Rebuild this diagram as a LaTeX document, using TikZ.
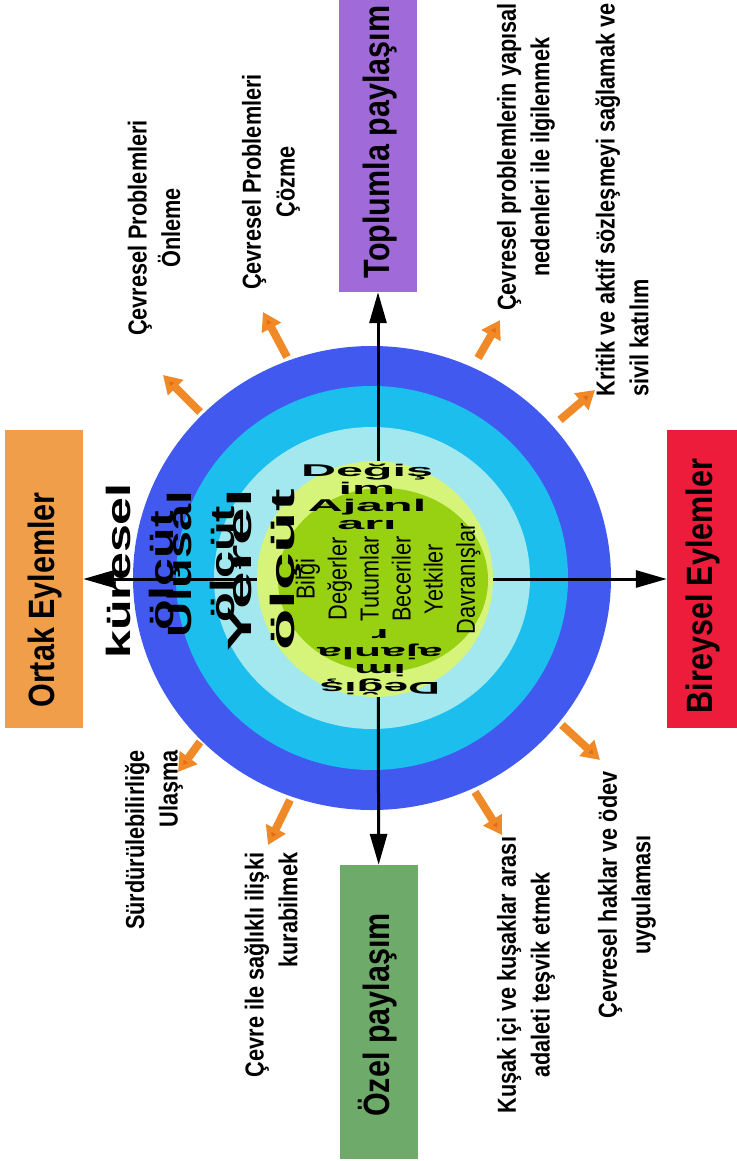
\documentclass[tikz,border=0pt]{standalone}
\usepackage{fontspec}
\setmainfont{Liberation Sans}
\usetikzlibrary{arrows.meta}
\tikzset{%
  box/.style={rectangle,inner sep=0pt,minimum width=78pt,fill=#1},
  boxtext/.style={font=\fontsize{30.5}{36}\selectfont\bfseries,rotate=90,yscale=1.2,inner sep=0pt},
  lbl/.style={font=\fontsize{21.7}{28}\selectfont\bfseries,rotate=90,yscale=1.2,inner sep=0pt,align=center},
  crit/.style={font=\fontsize{28}{36}\selectfont\bfseries,rotate=90,yscale=1.2,xscale=#1,inner sep=0pt,align=center},
  agent/.style={font=\fontsize{17}{17.5}\selectfont\bfseries,inner sep=0pt,align=center},
  items/.style={font=\fontsize{21.7}{26.7}\selectfont,rotate=90,yscale=1.2,inner sep=0pt,align=center},
  link/.style={line width=3pt,-{Triangle[length=31pt,width=17pt]}},
  spark/.style={line width=8pt,draw=c9,-{Triangle[length=18pt,width=21pt,fill=c10]}}
}
\definecolor{c0}{rgb}{0.26,0.35,0.94}
\definecolor{c1}{rgb}{0.11,0.745,0.933}
\definecolor{c2}{rgb}{0.635,0.91,0.933}
\definecolor{c3}{rgb}{0.84,0.957,0.478}
\definecolor{c4}{rgb}{0.596,0.816,0.07}
\definecolor{c5}{rgb}{0.627,0.416,0.847}
\definecolor{c6}{rgb}{0.925,0.11,0.227}
\definecolor{c7}{rgb}{0.431,0.667,0.416}
\definecolor{c8}{rgb}{0.941,0.62,0.29}
\definecolor{c9}{rgb}{0.941,0.541,0.157}
\definecolor{c10}{rgb}{0.91,0.424,0.078}

\begin{document}
\begin{tikzpicture}[x=1pt,y=-1pt]
  \useasboundingbox (0,0) rectangle (736,1161);
  \coordinate (o) at (372,578);
  \coordinate (mid) at (378,579);
  \node[box=c5,minimum height=302pt] (b0) at (378,141) {};
  \node[box=c6,minimum height=298pt] (b1) at (706,579) {};
  \node[box=c7,minimum height=294pt] (b2) at (379,1012) {};
  \node[box=c8,minimum height=298pt] (b3) at (44,579) {};
  \fill[c0] (o) ellipse [x radius=239,y radius=232];
  \fill[c1] (o) ellipse [x radius=196,y radius=192];
  \fill[c2] (o) ellipse [x radius=158,y radius=151];
  \draw[link] (mid) -- (b0);
  \draw[link] (mid) -- (b1);
  \draw[link] (mid) -- (b2);
  \draw[link] (mid) -- (b3);
  \fill[c3] (375,579) circle [radius=118];
  \fill[c4] (383,580) ellipse [x radius=105,y radius=92];
  %%%
  \node[boxtext] (t0) at (380,142) {Toplumla paylaşım};
  \node[boxtext] (t1) at (703,586) {Bireysel Eylemler};
  \node[boxtext] (t2) at (378,1015) {Özel paylaşım};
  \node[boxtext] (t3) at (45,600) {Ortak Eylemler};
  \node[crit=1.79] (v0) at (143,571) {küresel\\ölçüt};
  \node[crit=1.74] (v1) at (204,564) {Ulusal\\ölçüt};
  \node[crit=2.42] (v2) at (264,570) {Yerel\\ölçüt};
  \node[agent,xscale=2.85] (g0) at (367,497) {Değiş\\im\\Ajanl\\arı};
  \node[agent,rotate=180,xscale=2.6] (g1) at (380,662) {Değiş\\im\\ajanla\\r};
  \node[items] (k0) at (388,579) {Bilgi\\Değerler\\Tutumlar\\Beceriler\\Yetkiler\\Davranışlar};
  %%%
  \coordinate (a0) at (200,412); \coordinate (e0) at (163,375);
  \coordinate (a1) at (287,357); \coordinate (e1) at (263,312);
  \coordinate (a2) at (478,358); \coordinate (e2) at (500,320);
  \coordinate (a3) at (560,420); \coordinate (e3) at (595,390);
  \coordinate (a4) at (562,725); \coordinate (e4) at (600,760);
  \coordinate (a5) at (475,792); \coordinate (e5) at (502,835);
  \coordinate (a6) at (290,800); \coordinate (e6) at (268,845);
  \coordinate (a7) at (200,742); \coordinate (e7) at (178,772);
  \draw[spark] (a0) -- (e0);
  \draw[spark] (a1) -- (e1);
  \draw[spark] (a2) -- (e2);
  \draw[spark] (a3) -- (e3);
  \draw[spark] (a4) -- (e4);
  \draw[spark] (a5) -- (e5);
  \draw[spark] (a6) -- (e6);
  \draw[spark] (a7) -- (e7);
  \node[lbl] (l0) at (154,228) {Çevresel Problemleri\\Önleme};
  \node[lbl] (l1) at (271,182) {Çevresel Problemleri\\Çözme};
  \node[lbl] (l2) at (526,157) {Çevresel problemlerin yapısal\\nedenleri ile ilgilenmek};
  \node[lbl,align=left] (l3) at (622,200) {Kritik ve aktif sözleşmeyi sağlamak ve\\sivil katılım};
  \node[lbl] (l4) at (627,895) {Çevresel haklar ve ödev\\uygulaması};
  \node[lbl] (l5) at (526,975) {Kuşak içi ve kuşaklar arası\\adaleti teşvik etmek};
  \node[lbl,align=right] (l6) at (271,965) {Çevre ile sağlıklı ilişki\\kurabilmek};
  \node[lbl,align=right] (l7) at (154,840) {Sürdürülebilirliğe\\Ulaşma};
\end{tikzpicture}
\end{document}
